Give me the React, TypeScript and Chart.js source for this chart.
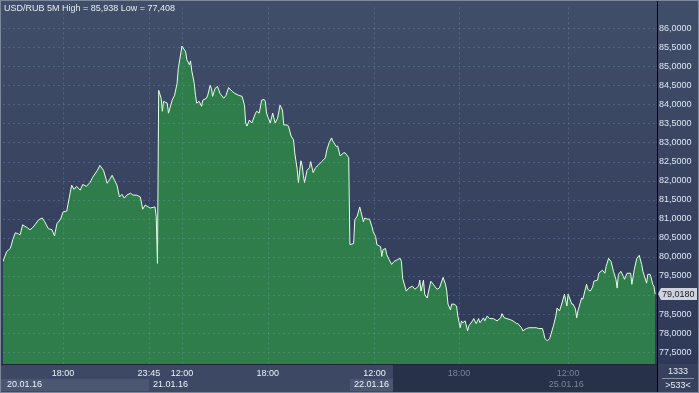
import React, { useEffect, useRef } from 'react';
import { Chart, registerables } from 'chart.js';
Chart.register(...registerables);

const TITLE = 'USD/RUB 5M High = 85,938 Low = 77,408';

// bar index (5-minute bars in view) and closing price
const bars = [
  0, 3, 6, 8, 10, 12, 14, 16, 20, 22, 24, 26, 29, 32, 34, 37, 40, 42, 44, 47,
  49, 52, 53, 56, 58, 60, 63, 65, 68, 71, 73, 77, 79, 82, 85, 87, 89, 91, 93, 95,
  97, 99, 101, 104, 106, 109, 112, 114, 116, 120, 124, 125, 126, 127, 129, 130, 131, 134, 135, 138,
  140, 142, 143, 144, 146, 149, 150, 152, 153, 154, 156, 157, 158, 160, 162, 163, 166, 167, 169, 170,
  171, 173, 175, 177, 180, 182, 184, 187, 189, 192, 195, 197, 198, 199, 201, 203, 206, 207, 209, 211,
  213, 214, 215, 218, 220, 222, 224, 226, 228, 229, 232, 233, 235, 237, 238, 240, 241, 243, 244, 245,
  246, 248, 250, 251, 253, 255, 257, 260, 263, 264, 266, 268, 269, 272, 273, 275, 278, 279, 281, 282,
  283, 286, 287, 289, 291, 292, 294, 295, 297, 299, 301, 302, 304, 305, 308, 309, 310, 312, 313, 315,
  317, 319, 322, 324, 325, 326, 329, 331, 334, 336, 339, 340, 341, 343, 344, 346, 349, 351, 354, 356,
  359, 361, 362, 363, 365, 366, 368, 370, 371, 373, 374, 375, 377, 379, 380, 383, 384, 386, 388, 389,
  392, 393, 395, 397, 400, 403, 406, 407, 409, 411, 414, 416, 419, 420, 423, 424, 427, 429, 433, 435,
  437, 440, 441, 442, 444, 446, 449, 451, 452, 454, 456, 458, 460, 461, 464, 465, 467, 468, 469, 472,
  473, 476, 477, 479, 481, 482, 485, 486, 489, 491, 492, 494, 496, 498, 500, 501, 502, 504, 506, 507,
  509, 512, 513, 515, 517, 519, 521, 522, 525, 526, 528, 530, 531, 532,
];
const prices = [
  79.88, 80.14, 80.22, 80.45, 80.63, 80.61, 80.58, 80.84, 80.76, 80.71, 80.76, 80.84, 80.97, 81.02, 80.92, 80.74, 80.71, 80.55, 80.87, 80.99,
  81.18, 81.2, 81.38, 81.88, 81.77, 81.85, 81.75, 81.9, 81.85, 81.95, 82.08, 82.27, 82.4, 82.27, 81.93, 82.03, 82.14, 82.01, 81.88, 81.57,
  81.64, 81.54, 81.62, 81.67, 81.62, 81.62, 81.57, 81.25, 81.36, 81.28, 81.31, 81.05, 79.83, 84.37, 84.16, 83.82, 84.08, 84.03, 83.77, 84.11,
  84.24, 84.55, 84.94, 85.14, 85.53, 85.38, 85.17, 85.04, 85.14, 84.88, 84.55, 84.24, 84.03, 84.08, 83.95, 84.11, 84.16, 84.24, 84.5, 84.42,
  84.21, 84.42, 84.47, 84.29, 84.16, 84.24, 84.44, 84.34, 84.29, 84.24, 84.21, 83.98, 83.51, 83.43, 83.59, 83.51, 83.77, 83.82, 83.77, 84.11,
  84.13, 84.08, 83.77, 83.51, 83.77, 83.51, 83.64, 83.98, 83.85, 83.46, 83.46, 83.41, 83.17, 83.07, 82.73, 82.29, 81.95, 82.52, 82.4, 82.14,
  81.95, 82.27, 82.34, 82.5, 82.21, 82.34, 82.4, 82.5, 82.6, 82.78, 82.99, 83.12, 83.04, 82.89, 82.91, 82.65, 82.73, 82.73, 82.65, 82.6,
  80.32, 80.35, 80.97, 81.07, 81.31, 81.18, 80.92, 81.02, 80.99, 80.99, 80.79, 80.66, 80.53, 80.32, 80.27, 80.01, 80.19, 80.22, 80.06, 79.93,
  79.8, 79.88, 79.93, 79.96, 79.88, 79.44, 79.1, 79.18, 79.23, 79.15, 79.23, 79.39, 79.1, 79.39, 79.02, 78.92, 79.36, 79.28, 79.15, 79.18,
  79.46, 79.28, 79.1, 78.76, 78.61, 78.76, 78.76, 78.71, 78.45, 78.14, 78.32, 78.27, 78.32, 78.06, 78.19, 78.32, 78.38, 78.25, 78.38, 78.27,
  78.4, 78.32, 78.45, 78.38, 78.38, 78.32, 78.4, 78.51, 78.4, 78.38, 78.35, 78.32, 78.25, 78.25, 78.14, 78.06, 78.12, 78.14, 78.14, 78.14,
  78.12, 78.12, 78.01, 77.86, 77.8, 77.86, 78.19, 78.45, 78.66, 78.58, 78.79, 79.02, 78.71, 79.02, 78.76, 78.76, 78.63, 78.4, 78.58, 78.92,
  78.89, 79.28, 79.15, 79.1, 79.21, 79.36, 79.39, 79.57, 79.65, 79.57, 79.75, 79.96, 79.88, 79.62, 79.41, 79.18, 79.54, 79.62, 79.49, 79.41,
  79.57, 79.57, 79.28, 79.67, 79.96, 80.04, 79.8, 79.62, 79.31, 79.54, 79.54, 79.28, 79.23, 79.018,
];

const yTicks = [77.5, 78, 78.5, 79, 79.5, 80, 80.5, 81, 81.5, 82, 82.5, 83, 83.5, 84, 84.5, 85, 85.5, 86];
const xTickBars = [49, 119, 146, 216, 303, 372, 461];
const xTickLabels = ['18:00', '23:45', '12:00', '18:00', '12:00', '18:00', '12:00'];
const dayLabels = ['20.01.16', '21.01.16', '22.01.16', '25.01.16'];
const dayStartBars = [0, 119, 283, 442];
const inactiveFromBar = 318;
const lastPrice = 79.018;
const totalBars = '1333';
const visibleBars = '>533<';

const FONT = '9px "Liberation Sans", Arial, sans-serif';
const fmt = (v: number, d: number) => v.toFixed(d).replace('.', ',');

export default function App() {
  const ref = useRef<HTMLCanvasElement | null>(null);
  useEffect(() => {
    document.body.style.margin = '0';
    const canvas = ref.current;
    if (!canvas) return;

    const bgPlugin = {
      id: 'bg',
      beforeDraw(chart: any) {
        const { ctx, width, height } = chart;
        const ca = chart.chartArea;
        const xs = chart.scales.x;
        ctx.save();
        const g = ctx.createLinearGradient(0, 0, 0, ca.bottom);
        g.addColorStop(0, '#414e69');
        g.addColorStop(1, '#2e3957');
        ctx.fillStyle = g;
        ctx.fillRect(0, 0, width, ca.bottom);
        // bottom band
        ctx.fillStyle = '#3c4864';
        ctx.fillRect(0, ca.bottom, ca.right, height - ca.bottom);
        // alternating day boxes in date row
        for (let i = 0; i < dayStartBars.length; i++) {
          if (i % 2 !== 0) continue;
          const x0 = Math.round(xs.getPixelForValue(dayStartBars[i])) - (i === 0 ? 3 : 0);
          const x1 = i + 1 < dayStartBars.length ? Math.round(xs.getPixelForValue(dayStartBars[i + 1])) : ca.right;
          ctx.fillStyle = '#4b5772';
          ctx.fillRect(x0, ca.bottom + 15, x1 - x0, height - ca.bottom - 17);
        }
        // inactive region
        const xi = Math.round(xs.getPixelForValue(inactiveFromBar));
        ctx.fillStyle = '#27314a';
        ctx.fillRect(xi, ca.bottom, ca.right - xi, height - ca.bottom);
        // corner box
        ctx.fillStyle = '#36425d';
        ctx.fillRect(ca.right, ca.bottom, width - ca.right, height - ca.bottom);
        ctx.restore();
      },
      afterDatasetsDraw(chart: any) {
        const { ctx } = chart;
        const ca = chart.chartArea;
        const xs = chart.scales.x;
        const ys = chart.scales.y;
        ctx.save();
        ctx.strokeStyle = 'rgba(150,170,205,0.28)';
        ctx.lineWidth = 1;
        ctx.setLineDash([2, 3]);
        for (const v of yTicks) {
          const y = Math.round(ys.getPixelForValue(v)) + 0.5;
          ctx.beginPath();
          ctx.moveTo(ca.left, y);
          ctx.lineTo(ca.right, y);
          ctx.stroke();
        }
        for (const b of xTickBars) {
          const x = Math.round(xs.getPixelForValue(b)) + 0.5;
          ctx.beginPath();
          ctx.moveTo(x, ca.top);
          ctx.lineTo(x, ca.bottom);
          ctx.stroke();
        }
        ctx.restore();
      },
      afterDraw(chart: any) {
        const { ctx, width, height } = chart;
        const ca = chart.chartArea;
        const xs = chart.scales.x;
        const ys = chart.scales.y;
        ctx.save();
        ctx.font = FONT;
        // title
        ctx.fillStyle = '#e6ecf5';
        ctx.textBaseline = 'middle';
        ctx.textAlign = 'left';
        ctx.fillText(TITLE, 4, 9);
        // axis separator lines
        ctx.strokeStyle = '#1d2536';
        ctx.beginPath();
        ctx.moveTo(0, ca.bottom + 0.5);
        ctx.lineTo(ca.right, ca.bottom + 0.5);
        ctx.stroke();
        ctx.strokeStyle = '#000000';
        ctx.beginPath();
        ctx.moveTo(ca.right + 0.5, 0);
        ctx.lineTo(ca.right + 0.5, height);
        ctx.stroke();
        // date labels
        for (let i = 0; i < dayLabels.length; i++) {
          const x = xs.getPixelForValue(dayStartBars[i]) + 4;
          ctx.fillStyle = dayStartBars[i] >= inactiveFromBar ? '#7c8596' : '#eef2f8';
          ctx.fillText(dayLabels[i], x, ca.bottom + 21);
        }
        // price tag
        const py = Math.round(ys.getPixelForValue(lastPrice));
        ctx.fillStyle = '#cfd4dc';
        ctx.beginPath();
        ctx.moveTo(ca.right + 1, py);
        ctx.lineTo(ca.right + 4, py - 6);
        ctx.lineTo(width - 2, py - 6);
        ctx.lineTo(width - 2, py + 6);
        ctx.lineTo(ca.right + 4, py + 6);
        ctx.closePath();
        ctx.fill();
        ctx.fillStyle = '#141a26';
        ctx.fillText(fmt(lastPrice, 4), ca.right + 5, py + 0.5);
        // corner box
        ctx.fillStyle = '#e6ecf5';
        ctx.textAlign = 'center';
        const cx = (ca.right + width) / 2;
        ctx.fillText(totalBars, cx, ca.bottom + 8);
        ctx.fillText(visibleBars, cx, ca.bottom + 22);
        ctx.strokeStyle = '#8a94a6';
        ctx.beginPath();
        ctx.moveTo(ca.right + 5, ca.bottom + 14.5);
        ctx.lineTo(width - 5, ca.bottom + 14.5);
        ctx.stroke();
        // frame
        ctx.strokeStyle = '#7d889c';
        ctx.strokeRect(0.5, 0.5, width - 1, height - 1);
        ctx.restore();
      },
    };

    const chart = new Chart(canvas, {
      type: 'line',
      data: {
        datasets: [
          {
            data: bars.map((b, i) => ({ x: b, y: prices[i] })),
            borderColor: '#e4ffe4',
            borderWidth: 1,
            backgroundColor: '#2e7d4b',
            fill: 'start',
            pointRadius: 0,
            tension: 0,
          },
        ],
      },
      options: {
        responsive: false,
        animation: false,
        events: [],
        layout: { padding: { left: 3, top: 3, right: 0, bottom: 0 } },
        plugins: { legend: { display: false }, tooltip: { enabled: false } },
        scales: {
          x: {
            type: 'linear',
            min: 0,
            max: 533.5,
            grid: { display: false, drawTicks: false },
            border: { display: false },
            afterBuildTicks: (s: any) => {
              s.ticks = xTickBars.map((v) => ({ value: v }));
            },
            afterFit: (s: any) => {
              s.height = 29;
            },
            ticks: {
              autoSkip: false,
              maxRotation: 0,
              padding: 4,
              font: { family: '"Liberation Sans", Arial, sans-serif', size: 9 },
              color: (c: any) => (c.tick && c.tick.value >= inactiveFromBar ? '#7c8596' : '#eef2f8'),
              callback: (_v: any, i: number) => xTickLabels[i],
            },
          },
          y: {
            type: 'linear',
            position: 'right',
            min: 77.189,
            max: 86.544,
            grid: { display: false, drawTicks: false },
            border: { display: false },
            afterBuildTicks: (s: any) => {
              s.ticks = yTicks.map((v) => ({ value: v }));
            },
            afterFit: (s: any) => {
              s.width = 42;
            },
            ticks: {
              padding: 2,
              font: { family: '"Liberation Sans", Arial, sans-serif', size: 9 },
              color: '#dfe7f4',
              callback: (v: any) => fmt(Number(v), 4),
            },
          },
        },
      },
      plugins: [bgPlugin],
    } as any);
    return () => chart.destroy();
  }, []);
  return <canvas ref={ref} width={699} height={393} style={{ display: 'block' }} />;
}
